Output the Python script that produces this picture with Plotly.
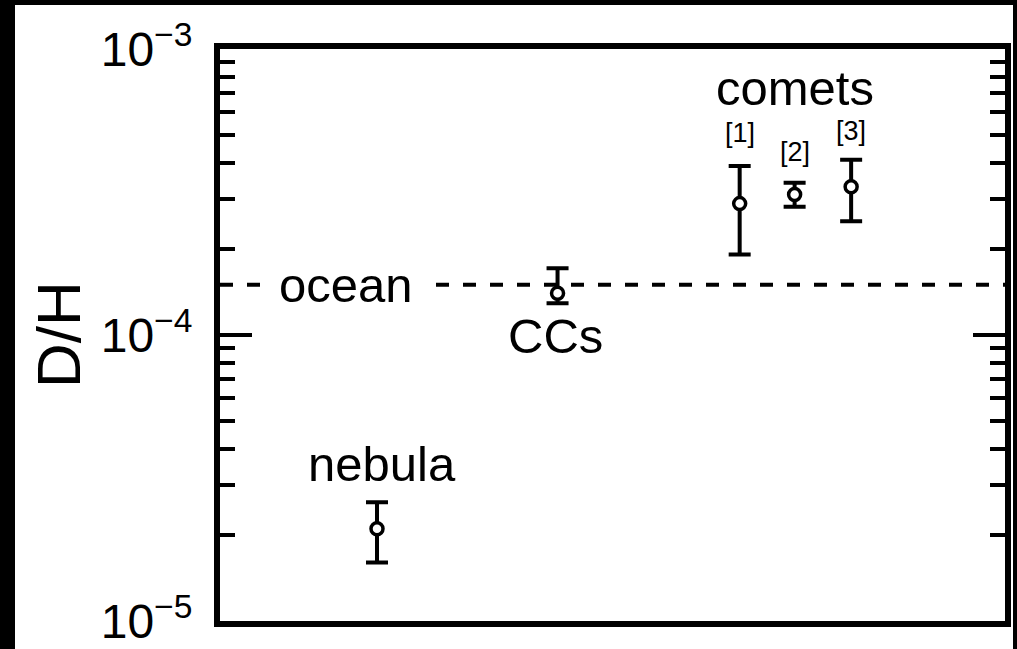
import math
import plotly.graph_objects as go

# ---- data ----
labels = ["nebula", "CCs", "comet [1]", "comet [2]", "comet [3]"]
x_pos = [0.20, 0.43, 0.662, 0.732, 0.804]
dh = [2.1e-5, 1.40e-4, 2.88e-4, 3.10e-4, 3.30e-4]
dh_upper = [2.6e-5, 1.71e-4, 3.9e-4, 3.41e-4, 4.1e-4]
dh_lower = [1.6e-5, 1.29e-4, 1.91e-4, 2.81e-4, 2.5e-4]
ocean_dh = 1.5e-4

tick_vals = [1e-5, 1e-4, 1e-3]
tick_text = ["10<sup>\u22125</sup>", "10<sup>\u22124</sup>", "10<sup>\u22123</sup>"]
minor_vals = [m * 10.0 ** e for e in (-5, -4) for m in range(2, 10)]

err_plus = [u - v for u, v in zip(dh_upper, dh)]
err_minus = [v - l for v, l in zip(dh, dh_lower)]

FONT = "Liberation Sans, Arial, Helvetica, sans-serif"

fig = go.Figure()

# ocean reference line
fig.add_trace(go.Scatter(
    x=[0, 1], y=[ocean_dh, ocean_dh], mode="lines",
    line=dict(color="black", width=4, dash="13px,14px"),
    hoverinfo="skip", showlegend=False,
))

# data points
fig.add_trace(go.Scatter(
    x=x_pos, y=dh, mode="markers", text=labels,
    marker=dict(symbol="circle", size=12, color="white",
                line=dict(color="black", width=3.5)),
    error_y=dict(type="data", array=err_plus, arrayminus=err_minus,
                 color="black", thickness=4, width=11),
    showlegend=False,
))

L, R, T, B = 220, 12, 49, 28
W, H = 1017, 649
pw, ph = W - L - R, H - T - B

# white page inside black frame
fig.add_shape(type="rect", xref="paper", yref="paper",
              x0=(15 - L) / pw, x1=(1013 - L) / pw,
              y0=-(B + 2) / ph, y1=1 + (T - 5) / ph,
              fillcolor="white", line=dict(width=0), layer="below")

annos = [
    dict(text="comets", x=x_pos[3], y=-3.136, size=49),
    dict(text="[1]", x=x_pos[2], y=-3.294, size=27),
    dict(text="[2]", x=x_pos[3], y=-3.36, size=27),
    dict(text="[3]", x=x_pos[4], y=-3.287, size=27),
    dict(text="nebula", x=0.206, y=-4.451, size=49),
    dict(text="CCs", x=0.428, y=-4.0035, size=49),
]
for a in annos:
    fig.add_annotation(text=a["text"], x=a["x"], y=a["y"], xref="x", yref="y",
                       showarrow=False, xanchor="center", yanchor="middle",
                       font=dict(family=FONT, size=a["size"], color="black"))

fig.add_annotation(text="ocean", x=0.1605, y=math.log10(ocean_dh), xref="x", yref="y",
                   showarrow=False, xanchor="center", yanchor="middle",
                   bgcolor="white", borderpad=18,
                   font=dict(family=FONT, size=49, color="black"))

fig.add_annotation(text="D/H", x=(58 - L) / pw, y=0.5, xref="paper", yref="paper",
                   showarrow=False, textangle=-90, xanchor="center", yanchor="middle",
                   font=dict(family=FONT, size=62, color="black"))

fig.update_xaxes(range=[0, 1], showticklabels=False, ticks="", showgrid=False,
                 zeroline=False, showline=True, linecolor="black", linewidth=6,
                 mirror=True, automargin=False)
fig.update_yaxes(type="log", range=[-5, -3], tickvals=tick_vals, ticktext=tick_text,
                 ticks="inside", ticklen=32, tickwidth=4, tickcolor="black",
                 showline=True, linecolor="black", linewidth=6, mirror="ticks",
                 showgrid=False, zeroline=False, ticklabelstandoff=12,
                 automargin=False,
                 tickfont=dict(family=FONT, size=48, color="black"),
                 minor=dict(tickvals=minor_vals, ticks="inside", ticklen=15,
                            tickwidth=4, tickcolor="black", showgrid=False))

fig.update_layout(width=W, height=H, margin=dict(l=L, r=R, t=T, b=B, pad=0,
                                                 autoexpand=False),
                  paper_bgcolor="black", plot_bgcolor="white",
                  font=dict(family=FONT, color="black"), showlegend=False)

fig.write_html("out.html", config={"displayModeBar": False},
               post_script="document.body.style.margin='0';document.body.style.overflow='hidden';")
